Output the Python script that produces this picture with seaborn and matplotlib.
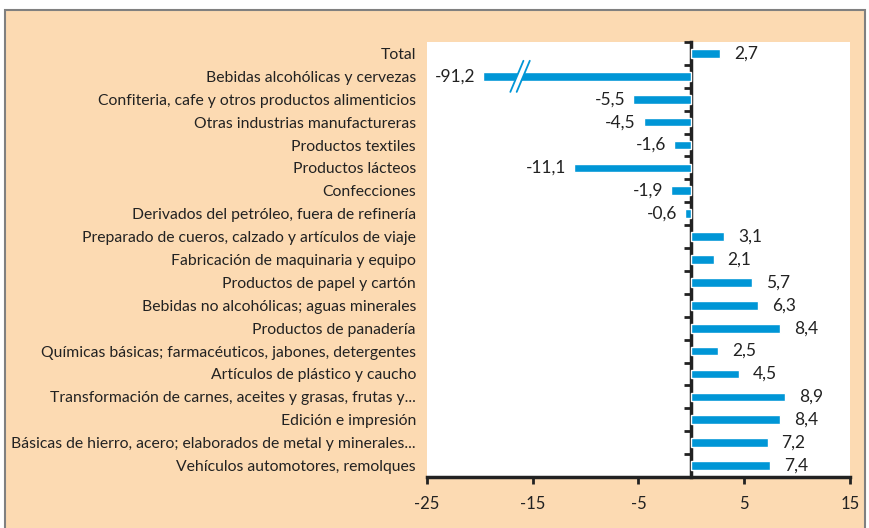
import matplotlib
matplotlib.use("Agg")
import matplotlib.pyplot as plt
import pandas as pd
import seaborn as sns
from matplotlib.patches import Rectangle, Polygon

# data
ramas = [
    "Total",
    "Bebidas alcohólicas y cervezas",
    "Confiteria, cafe y otros productos alimenticios",
    "Otras industrias manufactureras",
    "Productos textiles",
    "Productos lácteos",
    "Confecciones",
    "Derivados del petróleo, fuera de refinería",
    "Preparado de cueros, calzado y artículos de viaje",
    "Fabricación de maquinaria y equipo",
    "Productos de papel y cartón",
    "Bebidas no alcohólicas; aguas minerales",
    "Productos de panadería",
    "Químicas básicas; farmacéuticos, jabones, detergentes",
    "Artículos de plástico y caucho",
    "Transformación de carnes, aceites y grasas, frutas y...",
    "Edición e impresión",
    "Básicas de hierro, acero; elaborados de metal y minerales...",
    "Vehículos automotores, remolques",
]
variacion = [2.7, -91.2, -5.5, -4.5, -1.6, -11.1, -1.9, -0.6, 3.1, 2.1,
             5.7, 6.3, 8.4, 2.5, 4.5, 8.9, 8.4, 7.2, 7.4]
x_ticks = [-25, -15, -5, 5, 15]
corte = -19.7  # where the broken bar is cut on the axis

df = pd.DataFrame({"rama": ramas, "var": variacion})
df["dibujo"] = df["var"].clip(lower=corte)

AZUL = "#0096D6"
DURAZNO = "#FCDAB2"
TEXTO = "#222222"

sns.set_theme(style="white")
plt.rcParams["font.family"] = ["Lato", "DejaVu Sans"]
plt.rcParams["axes.unicode_minus"] = False

fig = plt.figure(figsize=(8.7, 5.28), dpi=100, facecolor="white")
fondo = Rectangle((5 / 870, -0.01), 860 / 870, 518 / 528 + 0.01,
                  transform=fig.transFigure, facecolor=DURAZNO,
                  edgecolor="#808080", lw=1.5, zorder=-10)
fig.patches.append(fondo)
ax = fig.add_axes([427 / 870, 51 / 528, 423 / 870, 435 / 528])
ax.set_zorder(1)
ax.set_facecolor("white")

sns.barplot(data=df, x="dibujo", y="rama", orient="h", color=AZUL,
            saturation=1, width=0.38, ax=ax)

ax.set_xlim(-25, 15)
ax.set_xticks(x_ticks)
ax.set_ylim(18.5, -0.5)
ax.set_xlabel("")
ax.set_ylabel("")
for s in ["top", "right", "left"]:
    ax.spines[s].set_visible(False)
ax.spines["bottom"].set_color(TEXTO)
ax.spines["bottom"].set_linewidth(2.5)
ax.tick_params(axis="y", length=0, pad=8, labelsize=11.3, labelcolor=TEXTO)
ax.tick_params(axis="x", bottom=True, direction="out", length=5, width=2,
               color=TEXTO, labelsize=12, labelcolor=TEXTO, pad=9)

# vertical axis at zero with category ticks
sec = ax.secondary_yaxis(25 / 40)
sec.set_alignment("left")
sec.set_yticks([i - 0.5 for i in range(len(ramas) + 1)])
sec.set_yticklabels([])
sec.spines["left"].set_linewidth(2.5)
sec.spines["left"].set_color(TEXTO)
sec.tick_params(axis="y", direction="out", length=5, width=2, color=TEXTO)

# value labels
for i, (v, d) in enumerate(zip(df["var"], df["dibujo"])):
    txt = f"{v:.1f}".replace(".", ",")
    if v >= 0:
        ax.annotate(txt, (d, i), xytext=(14, 0), textcoords="offset pixels",
                    ha="left", va="center", fontsize=12.5, color=TEXTO)
    else:
        ax.annotate(txt, (d, i), xytext=(-8, 0), textcoords="offset pixels",
                    ha="right", va="center", fontsize=12.5, color=TEXTO)

# break marks on the cut bar
ib = int(df["var"].idxmin())
bx = [-16.5, -15.9]
ax.add_patch(Polygon([(bx[0] - 0.3, ib + 0.25), (bx[0] + 0.3, ib - 0.25),
                      (bx[1] + 0.3, ib - 0.25), (bx[1] - 0.3, ib + 0.25)],
                     closed=True, facecolor="white", edgecolor="none", zorder=5))
for x0 in bx:
    ax.plot([x0 - 0.62, x0 + 0.62], [ib + 0.68, ib - 0.68], color=AZUL,
            lw=1.3, zorder=6, clip_on=False)

fig.savefig("out.png", dpi=100, facecolor="white")
